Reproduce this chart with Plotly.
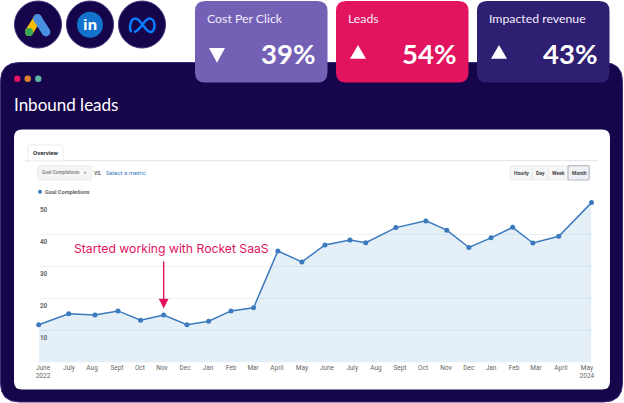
import plotly.graph_objects as go

W, H = 624, 403

# months, the points are not evenly spaced in the original
months = ["June<br>2022", "July", "Aug", "Sept", "Oct", "Nov", "Dec", "Jan", "Feb", "Mar", "April", "May",
          "June", "July", "Aug", "Sept", "Oct", "Nov", "Dec", "Jan", "Feb", "Mar", "April", "May<br>2024"]
month_pos = [0, 1.25, 2.34, 3.30, 4.24, 5.20, 6.17, 7.07, 8.00, 8.94, 9.95, 10.95,
             11.91, 12.95, 13.61, 14.86, 16.11, 16.98, 17.90, 18.82, 19.72, 20.56, 21.64, 23.0]
label_pos = [0.18, 1.26, 2.22, 3.26, 4.21, 5.13, 6.09, 7.04, 8.0, 8.92, 9.91, 10.95,
             11.99, 13.04, 14.03, 15.03, 15.99, 16.95, 17.90, 18.82, 19.78, 20.69, 21.73, 22.81]
goal_completions = [11.8, 15.2, 14.8, 16.1, 13.2, 14.8, 11.8, 12.9, 16.1, 17.1, 34.8, 31.4,
                    36.7, 38.2, 37.4, 42.1, 44.2, 41.3, 35.9, 38.9, 42.2, 37.3, 39.4, 49.9]
y_ticks = [10, 20, 30, 40, 50]

card_titles = ["Cost Per Click", "Leads", "Impacted revenue"]
card_values = ["39%", "54%", "43%"]
card_left = [195, 336, 477]
card_colors = ["#7460b5", "#e2135f", "#2f1f73"]
card_down = [True, False, False]

NAVY = "#16054a"
EDGE = "#3d2a78"
PINK = "#e2135f"
BLUE = "#3a7abd"


def pt(x, y):
    return f"{x / W:.5f},{1 - y / H:.5f}"


def rrect(x0, y0, x1, y1, r):
    return (f"M{pt(x0 + r, y0)} L{pt(x1 - r, y0)} Q{pt(x1, y0)} {pt(x1, y0 + r)} "
            f"L{pt(x1, y1 - r)} Q{pt(x1, y1)} {pt(x1 - r, y1)} L{pt(x0 + r, y1)} "
            f"Q{pt(x0, y1)} {pt(x0, y1 - r)} L{pt(x0, y0 + r)} Q{pt(x0, y0)} {pt(x0 + r, y0)} Z")


def path(d, fill=None, line=None, width=0):
    return dict(type="path", xref="paper", yref="paper", layer="below", path=d,
                fillcolor=fill if fill else "rgba(0,0,0,0)",
                line=dict(color=line if line else "rgba(0,0,0,0)", width=width))


def circle(cx, cy, r, fill, line=None, width=0):
    return dict(type="circle", xref="paper", yref="paper", layer="below",
                x0=(cx - r) / W, x1=(cx + r) / W, y0=1 - (cy + r) / H, y1=1 - (cy - r) / H,
                fillcolor=fill, line=dict(color=line if line else "rgba(0,0,0,0)", width=width))


def segment(x0, y0, x1, y1, color, width=1):
    return path(f"M{pt(x0, y0)} L{pt(x1, y1)}", line=color, width=width)


def capsule(x0, y0, x1, y1, r, color):
    # thick stroke with round ends
    return [segment(x0, y0, x1, y1, color, r * 2), circle(x0, y0, r, color), circle(x1, y1, r, color)]


def label(x, y, text, size, color, family="Lato", xanchor="left"):
    return dict(xref="paper", yref="paper", x=x / W, y=1 - y / H, text=text, showarrow=False,
                xanchor=xanchor, yanchor="middle", font=dict(size=size, color=color, family=family),
                borderpad=0, borderwidth=0)


shapes = []
notes = []

# dark window and white sheet
shapes.append(path(rrect(0.5, 62.5, 622.5, 402, 19), NAVY, EDGE, 1))
shapes.append(path(rrect(14, 129.5, 610, 389.5, 8), "white"))
for cx, c in zip([17.3, 27.7, 38.3], [PINK, "#d9822b", "#5bb5a2"]):
    shapes.append(circle(cx, 78.7, 3.2, c))
notes.append(label(14, 104, "Inbound leads", 17, "white"))

# platform badges
for cx in [38, 90, 142]:
    shapes.append(circle(cx, 24.5, 23.5, NAVY, EDGE, 1))
shapes += capsule(37.5, 18.5, 29, 32, 4, "#fbbc04")
shapes += capsule(37.5, 18.5, 46, 32, 4.4, "#4a90e2")
shapes.append(circle(29, 32, 4, "#34a853"))
shapes.append(circle(90, 24.7, 13, "#1272cc"))
notes.append(label(90, 24.5, "<b>in</b>", 15, "white", "Open Sans", "center"))
shapes.append(path(f"M{pt(131.5, 32)} C{pt(128.5, 28)} {pt(130.5, 18.5)} {pt(135.5, 18.5)} "
                   f"C{pt(141, 18.5)} {pt(145, 32)} {pt(150.5, 32)} "
                   f"C{pt(156, 32)} {pt(156, 18.5)} {pt(149.5, 18.5)} "
                   f"C{pt(144, 18.5)} {pt(140, 32)} {pt(134, 32)}", line="#0a7cff", width=2.6))

# kpi cards
for left, title, value, color, down in zip(card_left, card_titles, card_values, card_colors, card_down):
    shapes.append(path(rrect(left, 1, left + 132.5, 82.5, 10), color))
    notes.append(label(left + 12, 18.5, title, 12.3, "#f1edfa"))
    notes.append(label(left + 120, 53, f"<b>{value}</b>", 27.5, "white", xanchor="right"))
    if down:
        shapes.append(path(f"M{pt(left + 14, 48)} L{pt(left + 30, 48)} L{pt(left + 22, 62.7)} Z", "white"))
    else:
        shapes.append(path(f"M{pt(left + 14, 58.7)} L{pt(left + 30, 58.7)} L{pt(left + 22, 45)} Z", "white"))

# analytics screenshot chrome
shapes.append(segment(25, 160.7, 598, 160.7, "#e3e3e6", 1))
shapes.append(path(rrect(28, 145, 63, 161, 2), "white", "#e3e3e6", 0.7))
notes.append(label(45.5, 153, "<b>Overview</b>", 6, "#333333", "Roboto", "center"))
shapes.append(path(rrect(37.7, 165.7, 91.7, 180, 2), "#f5f5f5", "#e2e2e2", 0.7))
notes.append(label(41.5, 173, "<b>Goal Completions</b>", 4.7, "#8a8a8a", "Roboto"))
notes.append(label(84, 173, "▾", 4, "#777777", "DejaVu Sans"))
notes.append(label(94, 173, "<b>VS.</b>", 5, "#666666", "Roboto"))
notes.append(label(105.5, 173, "Select a metric", 6, "#3a78bd", "Roboto"))
shapes.append(circle(40, 191.7, 2, BLUE))
notes.append(label(45.3, 192, "<b>Goal Completions</b>", 5.6, "#666666", "Roboto"))

shapes.append(path(rrect(510, 165.7, 589.3, 180, 2), "#f6f6f6", "#e4e4e4", 0.7))
shapes.append(path(rrect(568, 165.7, 589.3, 180, 1.5), "#edf1f6", "#b9bcc0", 1.2))
for sep in [532.3, 548]:
    shapes.append(segment(sep, 166, sep, 180, "#e4e4e4", 0.7))
for cx, word in zip([521, 540, 558, 579], ["Hourly", "Day", "Week", "Month"]):
    notes.append(label(cx, 173, f"<b>{word}</b>", 5, "#444444", "Roboto", "center"))

# y labels sit under their gridline in the original
for v in y_ticks:
    notes.append(dict(xref="paper", yref="y", x=37.5 / W, y=v, yshift=-1.5, text=f"<b>{v}</b>", showarrow=False,
                      xanchor="left", yanchor="top", font=dict(size=6.3, color="#666666", family="Roboto")))

# callout
notes.append(label(171.5, 249, "Started working with Rocket SaaS", 12.2, PINK, "Inter", "center"))
notes.append(dict(xref="x", yref="y", x=month_pos[5], y=goal_completions[5], ax=0, ay=-55, standoff=6.5,
                  showarrow=True, arrowhead=2, arrowsize=1.4, arrowwidth=1.4, arrowcolor=PINK, text=""))

fig = go.Figure()
fig.add_trace(go.Scatter(x=month_pos, y=goal_completions, mode="lines+markers", fill="tozeroy",
                         fillcolor="rgba(62,141,198,0.14)", line=dict(color=BLUE, width=1.5),
                         marker=dict(color=BLUE, size=5), cliponaxis=False, hoverinfo="skip"))
fig.update_layout(
    width=W, height=H, margin=dict(l=0, r=0, t=0, b=0), autosize=False,
    paper_bgcolor="white", plot_bgcolor="rgba(0,0,0,0)", showlegend=False,
    shapes=shapes, annotations=notes,
    xaxis=dict(domain=[38.7 / W, 591.5 / W], range=[0, 23], tickvals=label_pos, ticktext=months,
               showgrid=False, zeroline=False, showline=False, ticks="", ticklen=0, automargin=False,
               tickfont=dict(size=6.5, color="#666666", family="Roboto"), tickangle=0),
    yaxis=dict(domain=[(H - 362.5) / H, (H - 202.3) / H], range=[0, 50], tickvals=y_ticks, automargin=False,
               showticklabels=False, gridcolor="#eef1f5", gridwidth=1, zeroline=False, showline=False),
)

# page margin would push the figure off the window
fig.write_html("out.html", config=dict(displayModeBar=False),
               post_script="document.body.style.margin='0';document.documentElement.style.overflow='hidden';")
